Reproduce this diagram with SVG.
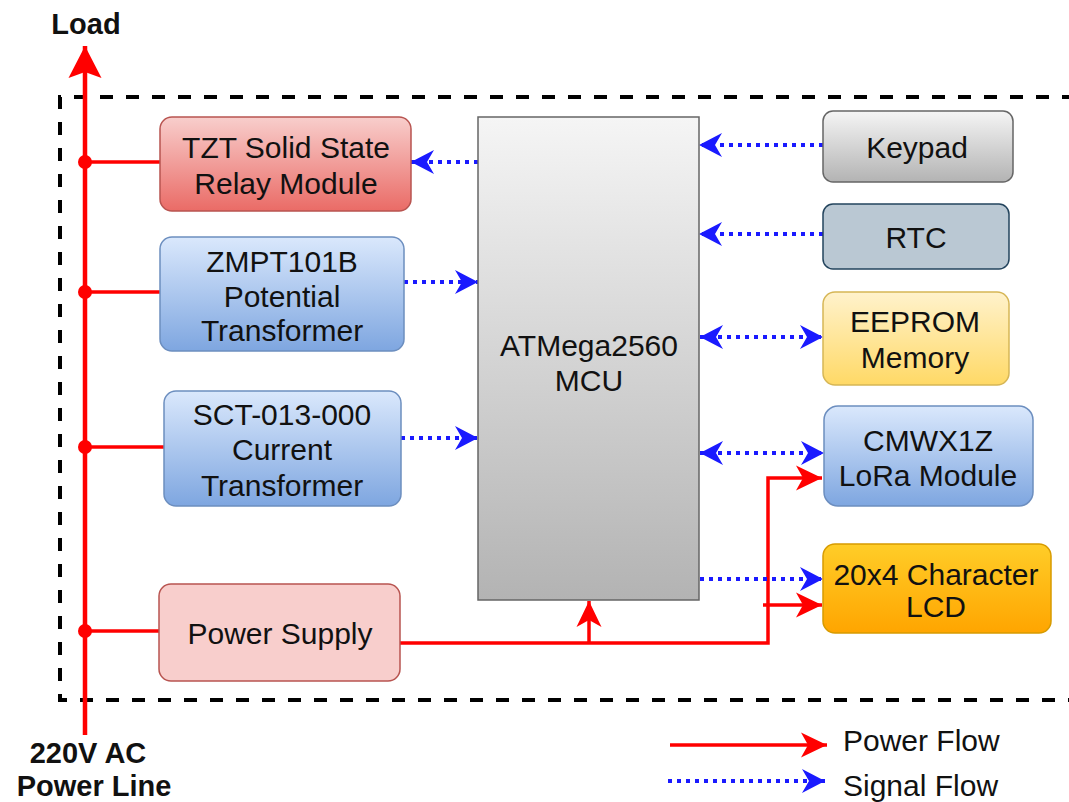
<svg xmlns="http://www.w3.org/2000/svg" width="1069" height="802" viewBox="0 0 1069 802">
<style>
  text { font-family: "Liberation Sans", Arial, sans-serif; font-size: 30px; fill: #111; text-anchor: middle; }
  .bold { font-weight: bold; font-size: 29px; }
  .legend { text-anchor: start; }
  .power { fill: none; stroke: #ff0000; stroke-width: 3.5; }
  .signal { fill: none; stroke: #1a1aff; stroke-width: 4; stroke-dasharray: 4 5; }
  .border { fill: none; stroke: #000; stroke-width: 4; stroke-dasharray: 13 13; }
  .node { stroke-width: 1.5; }
</style>
<defs>
  <linearGradient id="gRed" x1="0" y1="0" x2="0" y2="1"><stop offset="0" stop-color="#f8cecc"/><stop offset="1" stop-color="#ea6b66"/></linearGradient>
  <linearGradient id="gBlue" x1="0" y1="0" x2="0" y2="1"><stop offset="0" stop-color="#dae8fc"/><stop offset="1" stop-color="#7ea6e0"/></linearGradient>
  <linearGradient id="gGray" x1="0" y1="0" x2="0" y2="1"><stop offset="0" stop-color="#f5f5f5"/><stop offset="1" stop-color="#b3b3b3"/></linearGradient>
  <linearGradient id="gYellow" x1="0" y1="0" x2="0" y2="1"><stop offset="0" stop-color="#fff2cc"/><stop offset="1" stop-color="#ffd966"/></linearGradient>
  <linearGradient id="gOrange" x1="0" y1="0" x2="0" y2="1"><stop offset="0" stop-color="#ffcd28"/><stop offset="1" stop-color="#ffa500"/></linearGradient>
  <marker id="aBlue" markerUnits="userSpaceOnUse" viewBox="-24 -13 26 26" refX="0" refY="0" markerWidth="26" markerHeight="26" orient="auto-start-reverse">
    <path d="M0 0 L-23 -12 L-16 0 L-23 12 Z" fill="#1a1aff"/>
  </marker>
  <marker id="aRed" markerUnits="userSpaceOnUse" viewBox="-28 -14 30 28" refX="0" refY="0" markerWidth="30" markerHeight="28" orient="auto-start-reverse">
    <path d="M0 0 L-26 -12.5 L-19 0 L-26 12.5 Z" fill="#ff0000"/>
  </marker>
  <marker id="aRedBig" markerUnits="userSpaceOnUse" viewBox="-34 -18 36 36" refX="0" refY="0" markerWidth="36" markerHeight="36" orient="auto">
    <path d="M0 0 L-32 -16.5 L-26 0 L-32 16.5 Z" fill="#ff0000"/>
  </marker>
</defs>

<rect width="1069" height="802" fill="#ffffff"/>

<!-- dashed enclosure (right side runs off the picture) -->
<g id="enclosure">
  <path class="border" d="M1075 97 H60 V700 H1075"/>
</g>

<!-- connectors -->
<g id="connectors">
  <!-- main power line -->
  <line x1="85" y1="735" x2="85" y2="46" stroke="#ff0000" stroke-width="4.5" marker-end="url(#aRedBig)"/>
  <circle cx="85" cy="162" r="7" fill="#ff0000"/>
  <circle cx="85" cy="292" r="7" fill="#ff0000"/>
  <circle cx="85" cy="447" r="7" fill="#ff0000"/>
  <circle cx="85" cy="631" r="7" fill="#ff0000"/>
  <line class="power" x1="85" y1="162" x2="160" y2="162"/>
  <line class="power" x1="85" y1="292" x2="160" y2="292"/>
  <line class="power" x1="85" y1="447" x2="164" y2="447"/>
  <line class="power" x1="85" y1="631" x2="159" y2="631"/>
  <!-- power supply distribution -->
  <path class="power" d="M400 643 H768 V478 H822" marker-end="url(#aRed)"/>
  <line class="power" x1="589" y1="643" x2="589" y2="601" marker-end="url(#aRed)"/>
  <line class="power" x1="763" y1="605" x2="822" y2="605" marker-end="url(#aRed)"/>
  <!-- signals -->
  <line class="signal" x1="478" y1="162" x2="411" y2="162" marker-end="url(#aBlue)"/>
  <line class="signal" x1="404" y1="282" x2="478" y2="282" marker-end="url(#aBlue)"/>
  <line class="signal" x1="401" y1="438" x2="478" y2="438" marker-end="url(#aBlue)"/>
  <line class="signal" x1="823" y1="145" x2="699" y2="145" marker-end="url(#aBlue)"/>
  <line class="signal" x1="823" y1="234" x2="699" y2="234" marker-end="url(#aBlue)"/>
  <line class="signal" x1="700" y1="337" x2="823" y2="337" marker-start="url(#aBlue)" marker-end="url(#aBlue)"/>
  <line class="signal" x1="700" y1="453" x2="824" y2="453" marker-start="url(#aBlue)" marker-end="url(#aBlue)"/>
  <line class="signal" x1="700" y1="579" x2="823" y2="579" marker-end="url(#aBlue)"/>
  <!-- legend lines -->
  <line class="power" x1="670" y1="745" x2="827" y2="745" marker-end="url(#aRed)"/>
  <line class="signal" x1="668" y1="781" x2="825" y2="781" marker-end="url(#aBlue)"/>
</g>

<g id="relay">
  <rect class="node" x="160" y="117" width="251" height="94" rx="12" fill="url(#gRed)" stroke="#b85450"/>
  <text x="286" y="158">TZT Solid State</text>
  <text x="286" y="194">Relay Module</text>
</g>
<g id="zmpt">
  <rect class="node" x="160" y="237" width="244" height="114" rx="12" fill="url(#gBlue)" stroke="#6c8ebf"/>
  <text x="282" y="272">ZMPT101B</text>
  <text x="282" y="307">Potential</text>
  <text x="282" y="341">Transformer</text>
</g>
<g id="sct">
  <rect class="node" x="164" y="391" width="237" height="115" rx="12" fill="url(#gBlue)" stroke="#6c8ebf"/>
  <text x="282" y="425">SCT-013-000</text>
  <text x="282" y="460">Current</text>
  <text x="282" y="496">Transformer</text>
</g>
<g id="powersupply">
  <rect class="node" x="159" y="584" width="241" height="97" rx="12" fill="#f8cecc" stroke="#b85450"/>
  <text x="280" y="644">Power Supply</text>
</g>
<g id="mcu">
  <rect class="node" x="478" y="117" width="221" height="483" fill="url(#gGray)" stroke="#666666" stroke-width="2"/>
  <text x="589" y="356">ATMega2560</text>
  <text x="589" y="391">MCU</text>
</g>
<g id="keypad">
  <rect class="node" x="823" y="111" width="190" height="71" rx="10" fill="url(#gGray)" stroke="#666666"/>
  <text x="917" y="158">Keypad</text>
</g>
<g id="rtc">
  <rect class="node" x="823" y="204" width="186" height="65" rx="10" fill="#bac8d3" stroke="#23445d"/>
  <text x="916" y="248">RTC</text>
</g>
<g id="eeprom">
  <rect class="node" x="823" y="292" width="186" height="93" rx="12" fill="url(#gYellow)" stroke="#d6b656"/>
  <text x="915" y="332">EEPROM</text>
  <text x="915" y="368">Memory</text>
</g>
<g id="lora">
  <rect class="node" x="824" y="406" width="209" height="100" rx="14" fill="url(#gBlue)" stroke="#6c8ebf"/>
  <text x="928" y="451">CMWX1Z</text>
  <text x="928" y="486">LoRa Module</text>
</g>
<g id="lcd">
  <rect class="node" x="823" y="544" width="228" height="89" rx="12" fill="url(#gOrange)" stroke="#d79b00"/>
  <text x="936" y="585">20x4 Character</text>
  <text x="936" y="617">LCD</text>
</g>

<g id="labels">
  <text class="bold" x="86" y="34">Load</text>
  <text class="bold" x="88" y="763">220V AC</text>
  <text class="bold" x="94" y="796">Power Line</text>
  <text class="legend" x="843" y="751">Power Flow</text>
  <text class="legend" x="843" y="796">Signal Flow</text>
</g>
</svg>
